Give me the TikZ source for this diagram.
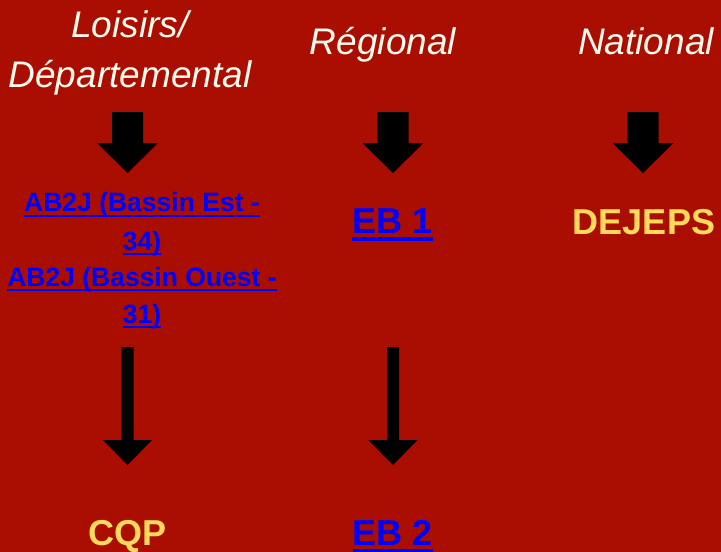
\documentclass[tikz,border=0pt]{standalone}
\usepackage{fontspec}
\setmainfont{Liberation Sans}
\definecolor{bgred}{HTML}{A90E00}
\definecolor{linkblue}{HTML}{0000FF}
\definecolor{goldtxt}{HTML}{FFD95A}
\definecolor{creamtxt}{HTML}{FFFBEE}
\newcommand\myul[1]{\leavevmode\setbox0\hbox{#1}\rlap{\rule[-0.2em]{\wd0}{0.085em}}\box0}
\tikzset{
  head/.style={anchor=base, inner sep=0pt, text=creamtxt, font=\itshape\fontsize{37}{37}\selectfont},
  linksmall/.style={anchor=base, inner sep=0pt, text=linkblue, font=\bfseries\fontsize{26.5}{26.5}\selectfont},
  linkbig/.style={anchor=base, inner sep=0pt, text=linkblue, font=\bfseries\fontsize{36}{36}\selectfont},
  goldbig/.style={anchor=base, inner sep=0pt, text=goldtxt, font=\bfseries\fontsize{36}{36}\selectfont},
  fat arrow/.pic={\fill[black] (-15.5,0) -- (15.5,0) -- (15.5,31) -- (30.5,31) -- (0,61) -- (-30.5,31) -- (-15.5,31) -- cycle;},
  long arrow/.pic={\fill[black] (-6,0) -- (6,0) -- (6,93) -- (24.5,93) -- (0,118) -- (-24.5,93) -- (-6,93) -- cycle;}
}
\begin{document}
\begin{tikzpicture}[x=1pt,y=-1pt]
\fill[bgred] (0,0) rectangle (721,552);
\useasboundingbox (0,0) rectangle (721,552);
% headers
\node[head] (h1a) at (130,37) {Loisirs/};
\node[head] (h1b) at (130,87) {Départemental};
\node[head] (h2) at (383,54) {Régional};
\node[head] (h3) at (646,54) {National};
% top arrows
\pic (a1) at (127.5,112) {fat arrow};
\pic (a2) at (393,112) {fat arrow};
\pic (a3) at (643,112) {fat arrow};
% level 1
\node[linksmall] (ab1) at (142,211.7) {\myul{AB2J (Bassin Est -}};
\node[linksmall] (ab1b) at (142,250) {\myul{34)}};
\node[linksmall] (ab2) at (142,286) {\myul{AB2J (Bassin Ouest -}};
\node[linksmall] (ab2b) at (142,323) {\myul{31)}};
\node[linkbig] (eb1) at (392.5,233.3) {\myul{EB 1}};
\node[goldbig] (dejeps) at (644,234) {DEJEPS};
% long arrows
\pic (l1) at (127.5,347) {long arrow};
\pic (l2) at (393,347) {long arrow};
% level 2
\node[goldbig] (cqp) at (127.5,545) {CQP};
\node[linkbig] (eb2) at (393,545) {\myul{EB 2}};
\end{tikzpicture}
\end{document}
